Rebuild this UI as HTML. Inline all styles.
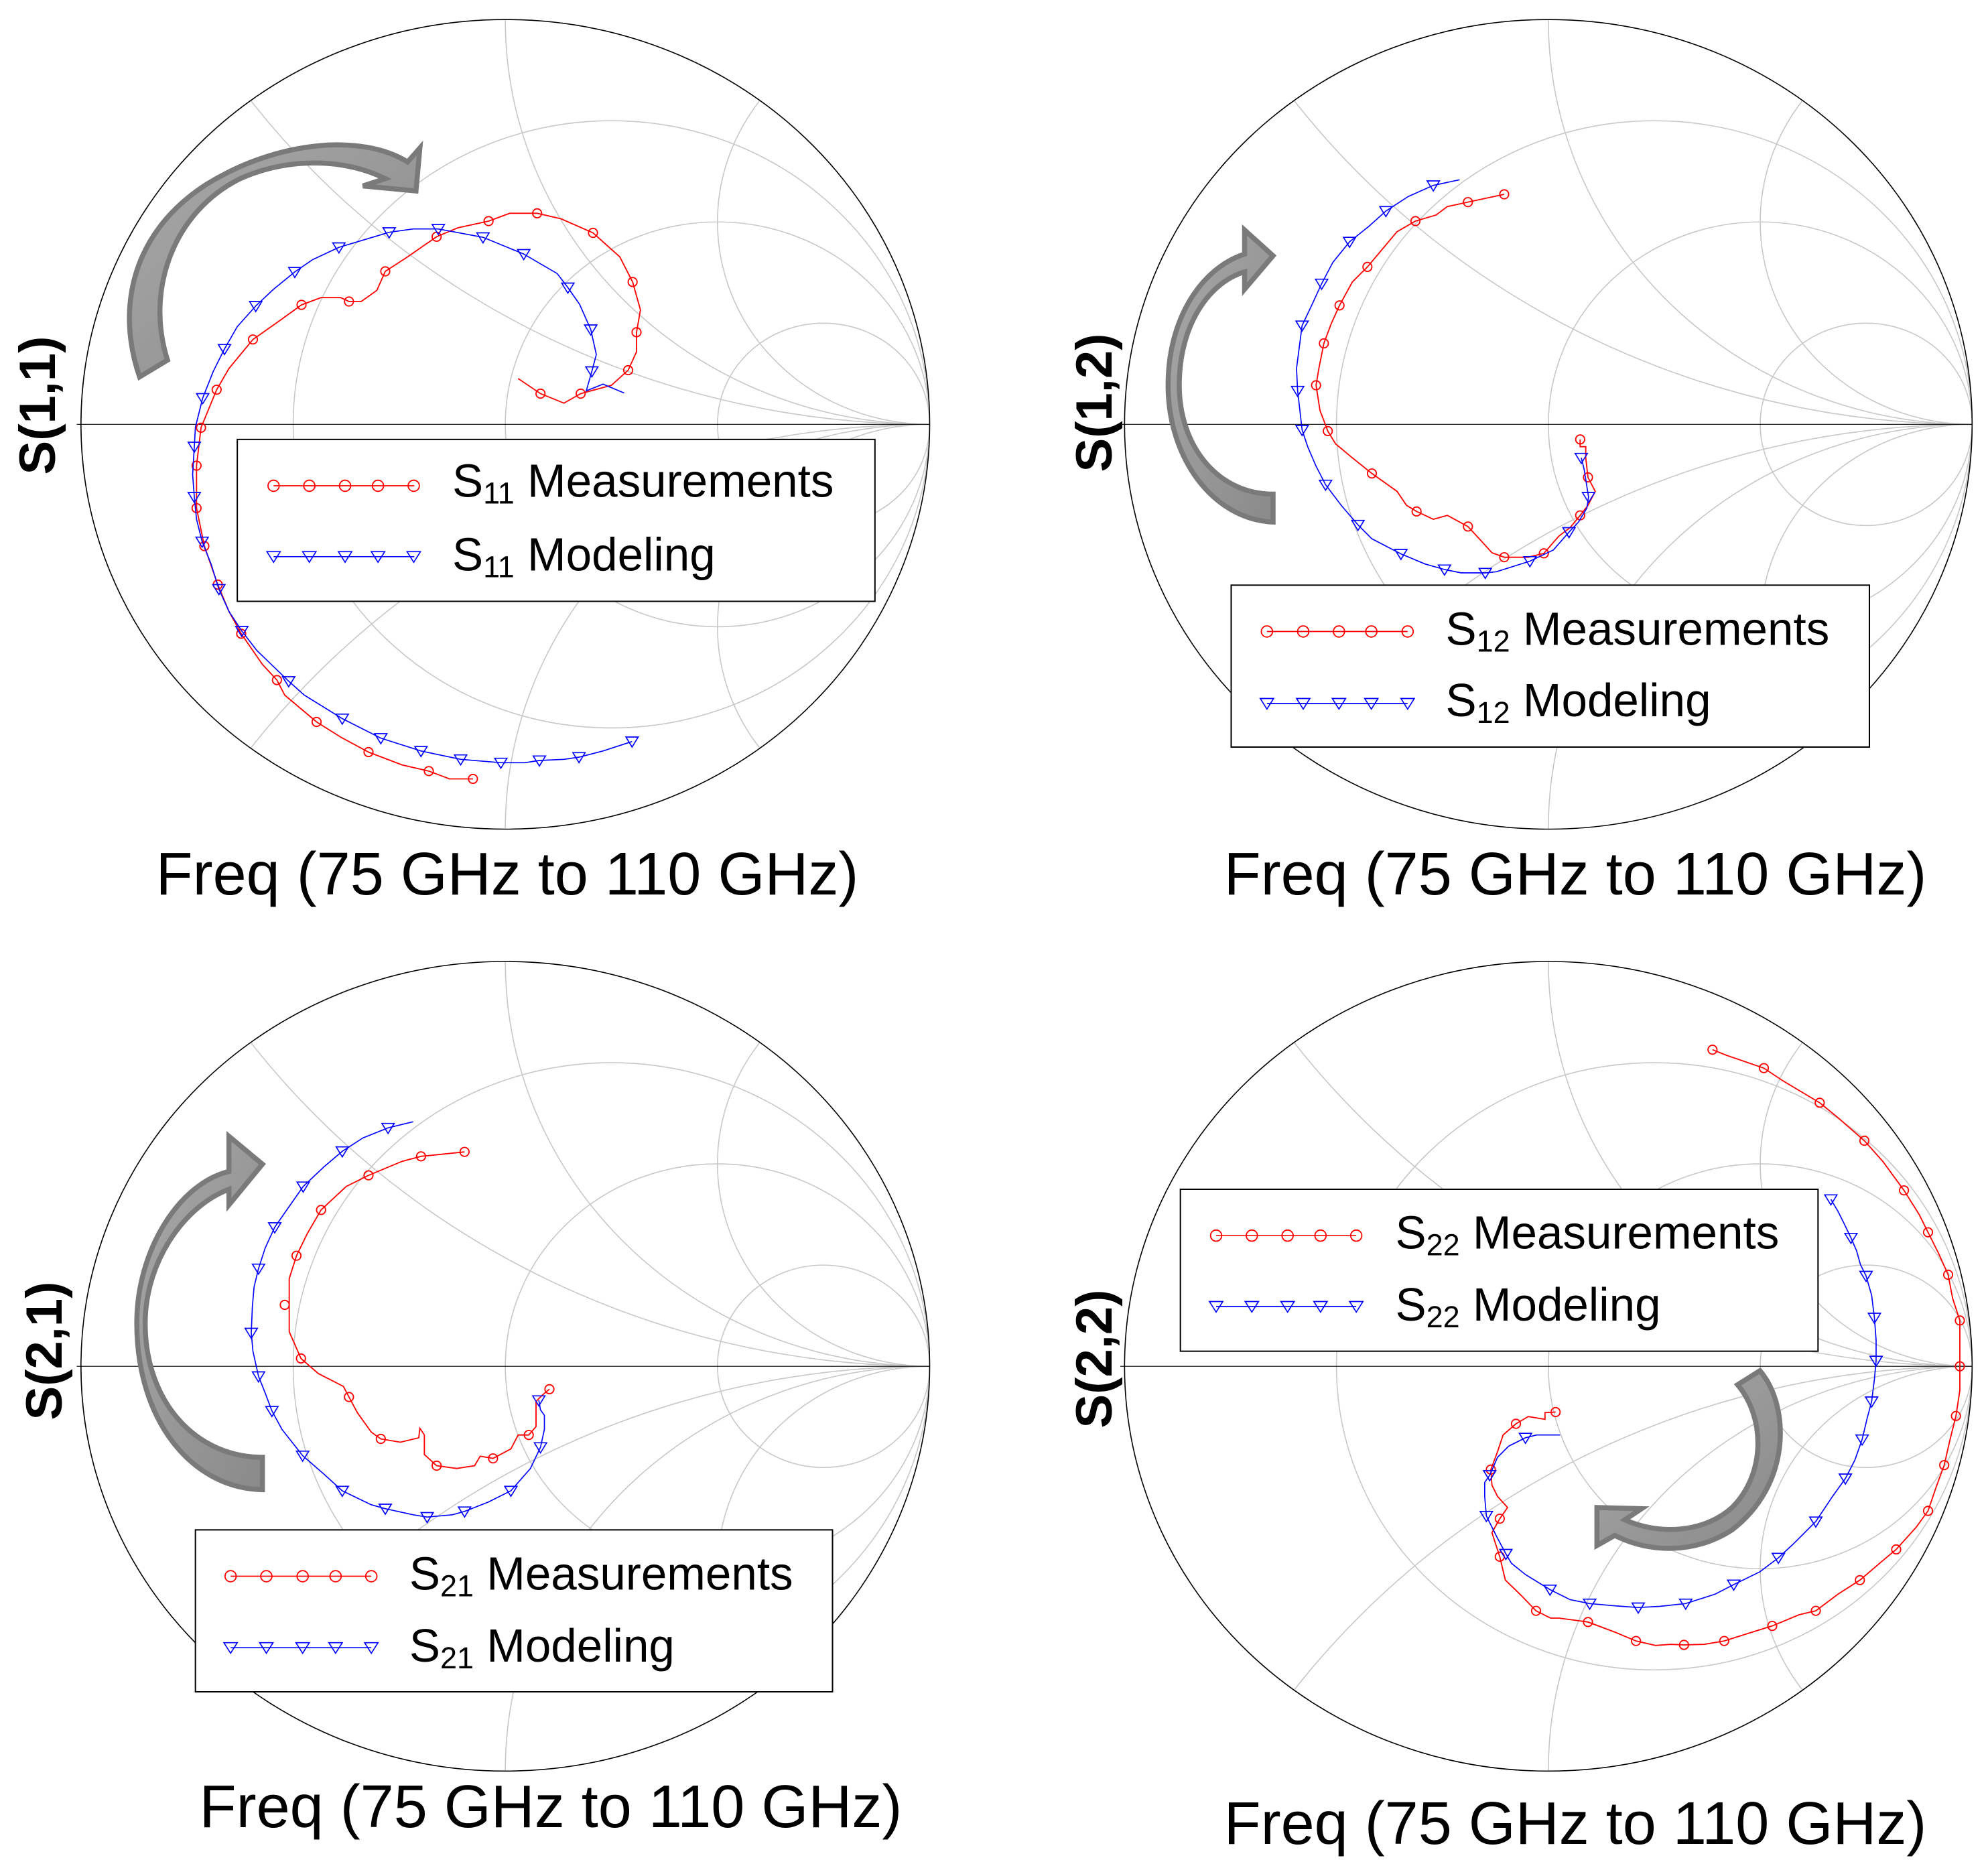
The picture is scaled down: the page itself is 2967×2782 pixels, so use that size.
<!DOCTYPE html>
<html><head><meta charset="utf-8"><style>html,body{margin:0;padding:0;background:#fff;overflow:hidden;width:2967px;height:2782px}svg{display:block}</style></head><body>
<svg xmlns="http://www.w3.org/2000/svg" xmlns:xlink="http://www.w3.org/1999/xlink" width="2967" height="2782" viewBox="0 0 2967 2782">
<defs>
<clipPath id="uc" clipPathUnits="userSpaceOnUse"><circle cx="0" cy="0" r="1"/></clipPath>
<g id="grid">
 <g clip-path="url(#uc)" fill="none" stroke="#c8c8c8" stroke-width="1.6">
  <circle cx="0.25" cy="0" r="0.75" vector-effect="non-scaling-stroke"/>
  <circle cx="0.5" cy="0" r="0.5" vector-effect="non-scaling-stroke"/>
  <circle cx="0.75" cy="0" r="0.25" vector-effect="non-scaling-stroke"/>
  <circle cx="1" cy="2" r="2" vector-effect="non-scaling-stroke"/>
  <circle cx="1" cy="-2" r="2" vector-effect="non-scaling-stroke"/>
  <circle cx="1" cy="1" r="1" vector-effect="non-scaling-stroke"/>
  <circle cx="1" cy="-1" r="1" vector-effect="non-scaling-stroke"/>
  <circle cx="1" cy="0.5" r="0.5" vector-effect="non-scaling-stroke"/>
  <circle cx="1" cy="-0.5" r="0.5" vector-effect="non-scaling-stroke"/>
 </g>
 <line x1="-1.01" y1="0" x2="1" y2="0" stroke="#000" stroke-width="1.2" vector-effect="non-scaling-stroke"/>
 <circle cx="0" cy="0" r="1" fill="none" stroke="#000" stroke-width="1.6" vector-effect="non-scaling-stroke"/>
</g>
<circle id="c" r="8" fill="none" stroke="#f00" stroke-width="2.2"/>
<path id="t" d="M-11,-8 L11,-8 L0,10 Z" fill="none" stroke="#00f" stroke-width="2"/>
<circle id="lc" r="10" fill="none" stroke="#f00" stroke-width="2.2"/>
<path id="lt" d="M-12,-9 L12,-9 L0,10 Z" fill="none" stroke="#00f" stroke-width="2"/>
<linearGradient id="ag" x1="0" y1="0" x2="1" y2="1"><stop offset="0" stop-color="#a8a8a8"/><stop offset="1" stop-color="#8a8a8a"/></linearGradient>
</defs>

<!-- ============ TL S11 ============ -->
<g transform="translate(100,0) scale(0.83333)">
 <g transform="translate(785,760) scale(760,-725)"><use xlink:href="#grid"/></g>
 <path d="M130,675 C90,560 110,420 250,330 C380,250 530,240 610,290 L632,265 L625,342 L530,333 L570,320 C500,285 400,280 310,320 C190,380 140,520 180,645 Z" fill="url(#ag)" stroke="#7a7a7a" stroke-width="9"/>
 <polyline fill="none" stroke="#f00" stroke-width="2.2" points="808,678 848,705 890,722 920,705 975,690 1005,663 1020,630 1020,595 1027,555 1013,505 990,460 942,417 885,392 842,382 793,382 755,396 700,408 662,424 610,460 570,486 555,520 527,540 505,540 490,533 455,533 420,546 380,575 333,608 290,660 268,698 240,766 232,834 232,910 246,978 270,1047 290,1095 312,1135 350,1190 376,1218 390,1245 447,1293 490,1320 540,1347 600,1370 648,1381 685,1395 727,1395"/>
 <g>
 <use xlink:href="#c" x="848" y="705"/><use xlink:href="#c" x="920" y="705"/><use xlink:href="#c" x="1005" y="663"/><use xlink:href="#c" x="1020" y="595"/><use xlink:href="#c" x="1013" y="505"/><use xlink:href="#c" x="942" y="417"/><use xlink:href="#c" x="842" y="382"/><use xlink:href="#c" x="755" y="396"/><use xlink:href="#c" x="662" y="424"/><use xlink:href="#c" x="570" y="486"/><use xlink:href="#c" x="505" y="540"/><use xlink:href="#c" x="420" y="546"/><use xlink:href="#c" x="333" y="608"/><use xlink:href="#c" x="268" y="698"/><use xlink:href="#c" x="240" y="766"/><use xlink:href="#c" x="232" y="834"/><use xlink:href="#c" x="232" y="910"/><use xlink:href="#c" x="246" y="978"/><use xlink:href="#c" x="270" y="1047"/><use xlink:href="#c" x="312" y="1135"/><use xlink:href="#c" x="376" y="1218"/><use xlink:href="#c" x="447" y="1293"/><use xlink:href="#c" x="540" y="1347"/><use xlink:href="#c" x="648" y="1381"/><use xlink:href="#c" x="727" y="1395"/>
 </g>
 <polyline fill="none" stroke="#00f" stroke-width="2" points="998,704 960,688 930,700 940,665 948,635 938,590 918,545 897,515 878,490 818,455 745,425 665,410 620,410 577,416 487,443 440,465 408,487 370,518 338,548 305,585 282,625 262,665 243,713 230,765 228,800 225,850 228,890 232,930 242,970 258,1010 272,1055 290,1095 313,1130 340,1165 397,1220 425,1245 493,1287 562,1322 634,1345 705,1360 777,1366 820,1366 846,1362 890,1360 917,1356 960,1345 1012,1328"/>
 <g>
 <use xlink:href="#t" x="940" y="665"/><use xlink:href="#t" x="938" y="590"/><use xlink:href="#t" x="897" y="515"/><use xlink:href="#t" x="818" y="455"/><use xlink:href="#t" x="745" y="425"/><use xlink:href="#t" x="665" y="410"/><use xlink:href="#t" x="577" y="416"/><use xlink:href="#t" x="487" y="443"/><use xlink:href="#t" x="408" y="487"/><use xlink:href="#t" x="338" y="548"/><use xlink:href="#t" x="282" y="625"/><use xlink:href="#t" x="243" y="713"/><use xlink:href="#t" x="228" y="800"/><use xlink:href="#t" x="228" y="890"/><use xlink:href="#t" x="242" y="970"/><use xlink:href="#t" x="272" y="1055"/><use xlink:href="#t" x="313" y="1130"/><use xlink:href="#t" x="397" y="1220"/><use xlink:href="#t" x="493" y="1287"/><use xlink:href="#t" x="562" y="1322"/><use xlink:href="#t" x="634" y="1345"/><use xlink:href="#t" x="705" y="1360"/><use xlink:href="#t" x="777" y="1366"/><use xlink:href="#t" x="846" y="1362"/><use xlink:href="#t" x="917" y="1356"/><use xlink:href="#t" x="1012" y="1328"/>
 </g>
 <rect x="305" y="787" width="1142" height="290" fill="#fff" stroke="#000" stroke-width="2.4"/>
 <line x1="370" y1="870" x2="622" y2="870" stroke="#f00" stroke-width="2"/>
 <use xlink:href="#lc" x="370" y="870"/><use xlink:href="#lc" x="434" y="870"/><use xlink:href="#lc" x="498" y="870"/><use xlink:href="#lc" x="557" y="870"/><use xlink:href="#lc" x="621" y="870"/>
 <line x1="370" y1="997" x2="622" y2="997" stroke="#00f" stroke-width="2"/>
 <use xlink:href="#lt" x="370" y="997"/><use xlink:href="#lt" x="434" y="997"/><use xlink:href="#lt" x="498" y="997"/><use xlink:href="#lt" x="557" y="997"/><use xlink:href="#lt" x="621" y="997"/>
 <text x="690" y="890" font-family="Liberation Sans, sans-serif" font-size="83">S<tspan font-size="54" dy="12">11</tspan><tspan dy="-12"> Measurements</tspan></text>
 <text x="690" y="1022" font-family="Liberation Sans, sans-serif" font-size="83">S<tspan font-size="54" dy="12">11</tspan><tspan dy="-12"> Modeling</tspan></text>
</g>

<!-- ============ TR S12 ============ -->
<g transform="translate(1660,0) scale(0.83333)">
 <g transform="translate(781,760) scale(759,-725)"><use xlink:href="#grid"/></g>
 <path d="M288,935 C180,930 100,820 100,690 C100,570 160,480 237,455 L237,412 L288,458 L237,518 L237,487 C175,505 120,580 120,690 C120,800 190,885 288,885 Z" fill="url(#ag)" stroke="#7a7a7a" stroke-width="9"/>
 <polyline fill="none" stroke="#f00" stroke-width="2.2" points="702,348 637,362 600,370 580,385 543,396 510,415 457,478 430,505 407,547 392,580 379,615 370,660 365,690 372,735 386,772 400,795 430,820 465,848 510,880 527,905 545,916 575,930 600,923 637,943 662,970 680,990 702,998 745,998 773,991 800,960 820,945 838,923 852,905 865,880 852,855 848,820 848,800 838,800 838,787"/>
 <g>
 <use xlink:href="#c" x="702" y="348"/><use xlink:href="#c" x="637" y="362"/><use xlink:href="#c" x="543" y="396"/><use xlink:href="#c" x="457" y="478"/><use xlink:href="#c" x="407" y="547"/><use xlink:href="#c" x="379" y="615"/><use xlink:href="#c" x="365" y="690"/><use xlink:href="#c" x="386" y="772"/><use xlink:href="#c" x="465" y="848"/><use xlink:href="#c" x="545" y="916"/><use xlink:href="#c" x="637" y="943"/><use xlink:href="#c" x="702" y="998"/><use xlink:href="#c" x="773" y="991"/><use xlink:href="#c" x="838" y="923"/><use xlink:href="#c" x="852" y="855"/><use xlink:href="#c" x="838" y="787"/>
 </g>
 <polyline fill="none" stroke="#00f" stroke-width="2" points="622,322 575,332 530,352 490,378 460,405 425,433 395,470 375,508 358,545 340,583 330,660 332,700 340,770 350,800 365,835 382,868 410,905 440,940 465,965 517,992 560,1010 595,1020 625,1026 668,1026 688,1024 748,1005 790,985 818,953 835,935 850,910 853,890 845,840 840,820"/>
 <g>
 <use xlink:href="#t" x="575" y="332"/><use xlink:href="#t" x="490" y="378"/><use xlink:href="#t" x="425" y="433"/><use xlink:href="#t" x="375" y="508"/><use xlink:href="#t" x="340" y="583"/><use xlink:href="#t" x="332" y="700"/><use xlink:href="#t" x="340" y="770"/><use xlink:href="#t" x="382" y="868"/><use xlink:href="#t" x="440" y="940"/><use xlink:href="#t" x="517" y="992"/><use xlink:href="#t" x="595" y="1020"/><use xlink:href="#t" x="668" y="1026"/><use xlink:href="#t" x="748" y="1005"/><use xlink:href="#t" x="818" y="953"/><use xlink:href="#t" x="853" y="890"/><use xlink:href="#t" x="840" y="820"/>
 </g>
 <rect x="213" y="1048" width="1143" height="290" fill="#fff" stroke="#000" stroke-width="2.4"/>
 <line x1="277" y1="1131" x2="529" y2="1131" stroke="#f00" stroke-width="2"/>
 <use xlink:href="#lc" x="277" y="1131"/><use xlink:href="#lc" x="342" y="1131"/><use xlink:href="#lc" x="406" y="1131"/><use xlink:href="#lc" x="464" y="1131"/><use xlink:href="#lc" x="529" y="1131"/>
 <line x1="277" y1="1260" x2="529" y2="1260" stroke="#00f" stroke-width="2"/>
 <use xlink:href="#lt" x="277" y="1260"/><use xlink:href="#lt" x="342" y="1260"/><use xlink:href="#lt" x="406" y="1260"/><use xlink:href="#lt" x="464" y="1260"/><use xlink:href="#lt" x="529" y="1260"/>
 <text x="597" y="1155" font-family="Liberation Sans, sans-serif" font-size="83">S<tspan font-size="54" dy="12">12</tspan><tspan dy="-12"> Measurements</tspan></text>
 <text x="597" y="1283" font-family="Liberation Sans, sans-serif" font-size="83">S<tspan font-size="54" dy="12">12</tspan><tspan dy="-12"> Modeling</tspan></text>
</g>

<!-- ============ BL S21 ============ -->
<g transform="translate(100,1400) scale(0.83333)">
 <g transform="translate(785,767) scale(760,-725)"><use xlink:href="#grid"/></g>
 <path d="M350,988 C220,985 125,860 125,690 C125,560 200,440 290,418 L290,355 L350,405 L290,478 L290,450 C210,480 140,580 140,690 C140,830 230,930 350,930 Z" fill="url(#ag)" stroke="#7a7a7a" stroke-width="9"/>
 <polyline fill="none" stroke="#f00" stroke-width="2.2" points="712,383 634,391 600,400 540,425 500,445 455,487 430,530 411,569 398,610 398,705 419,753 450,780 495,803 505,822 520,850 545,885 562,897 597,903 630,895 632,878 640,890 640,925 662,945 698,950 730,945 740,928 763,932 795,915 808,890 827,890 840,875 840,830 852,818 864,808"/>
 <g>
 <use xlink:href="#c" x="712" y="383"/><use xlink:href="#c" x="634" y="391"/><use xlink:href="#c" x="540" y="425"/><use xlink:href="#c" x="455" y="487"/><use xlink:href="#c" x="411" y="569"/><use xlink:href="#c" x="390" y="657"/><use xlink:href="#c" x="419" y="753"/><use xlink:href="#c" x="505" y="822"/><use xlink:href="#c" x="562" y="897"/><use xlink:href="#c" x="662" y="945"/><use xlink:href="#c" x="763" y="932"/><use xlink:href="#c" x="827" y="890"/><use xlink:href="#c" x="864" y="808"/>
 </g>
 <polyline fill="none" stroke="#00f" stroke-width="2" points="620,329 575,340 530,358 493,382 460,410 423,445 395,485 372,518 355,555 343,592 335,625 332,660 330,707 333,740 343,785 355,815 367,847 385,880 422,927 460,960 493,990 545,1015 570,1022 620,1033 645,1037 690,1033 712,1027 755,1010 795,990 830,950 848,912 855,880 855,855 848,845 845,828"/>
 <g>
 <use xlink:href="#t" x="575" y="340"/><use xlink:href="#t" x="493" y="382"/><use xlink:href="#t" x="423" y="445"/><use xlink:href="#t" x="372" y="518"/><use xlink:href="#t" x="343" y="592"/><use xlink:href="#t" x="330" y="707"/><use xlink:href="#t" x="343" y="785"/><use xlink:href="#t" x="367" y="847"/><use xlink:href="#t" x="422" y="927"/><use xlink:href="#t" x="493" y="990"/><use xlink:href="#t" x="570" y="1022"/><use xlink:href="#t" x="645" y="1037"/><use xlink:href="#t" x="712" y="1027"/><use xlink:href="#t" x="795" y="990"/><use xlink:href="#t" x="848" y="912"/><use xlink:href="#t" x="845" y="828"/>
 </g>
 <rect x="230" y="1060" width="1141" height="290" fill="#fff" stroke="#000" stroke-width="2.4"/>
 <line x1="293" y1="1143" x2="545" y2="1143" stroke="#f00" stroke-width="2"/>
 <use xlink:href="#lc" x="293" y="1143"/><use xlink:href="#lc" x="357" y="1143"/><use xlink:href="#lc" x="422" y="1143"/><use xlink:href="#lc" x="481" y="1143"/><use xlink:href="#lc" x="545" y="1143"/>
 <line x1="293" y1="1271" x2="545" y2="1271" stroke="#00f" stroke-width="2"/>
 <use xlink:href="#lt" x="293" y="1271"/><use xlink:href="#lt" x="357" y="1271"/><use xlink:href="#lt" x="422" y="1271"/><use xlink:href="#lt" x="481" y="1271"/><use xlink:href="#lt" x="545" y="1271"/>
 <text x="613" y="1167" font-family="Liberation Sans, sans-serif" font-size="83">S<tspan font-size="54" dy="12">21</tspan><tspan dy="-12"> Measurements</tspan></text>
 <text x="613" y="1296" font-family="Liberation Sans, sans-serif" font-size="83">S<tspan font-size="54" dy="12">21</tspan><tspan dy="-12"> Modeling</tspan></text>
</g>

<!-- ============ BR S22 ============ -->
<g transform="translate(1660,1400) scale(0.83333)">
 <g transform="translate(781,767) scale(759,-725)"><use xlink:href="#grid"/></g>
 <polyline fill="none" stroke="#f00" stroke-width="2.2" points="1075,200 1100,210 1167,233 1200,255 1267,295 1300,322 1347,363 1380,400 1418,452 1445,495 1461,527 1480,565 1497,603 1505,645 1518,685 1518,767 1518,810 1511,856 1500,900 1490,944 1475,985 1461,1026 1440,1055 1404,1095 1380,1115 1339,1150 1300,1175 1260,1205 1230,1212 1182,1232 1140,1245 1096,1259 1060,1265 1024,1266 1000,1265 973,1267 938,1259 900,1243 852,1225 800,1218 785,1218 759,1205 730,1175 704,1150 694,1108 680,1065 694,1040 708,1020 690,1000 680,980 678,952 690,920 700,890 723,870 745,857 775,862 775,850 794,849"/>
 <g>
 <use xlink:href="#c" x="1075" y="200"/><use xlink:href="#c" x="1167" y="233"/><use xlink:href="#c" x="1267" y="295"/><use xlink:href="#c" x="1347" y="363"/><use xlink:href="#c" x="1418" y="452"/><use xlink:href="#c" x="1461" y="527"/><use xlink:href="#c" x="1497" y="603"/><use xlink:href="#c" x="1518" y="685"/><use xlink:href="#c" x="1518" y="767"/><use xlink:href="#c" x="1511" y="856"/><use xlink:href="#c" x="1490" y="944"/><use xlink:href="#c" x="1461" y="1026"/><use xlink:href="#c" x="1404" y="1095"/><use xlink:href="#c" x="1339" y="1150"/><use xlink:href="#c" x="1260" y="1205"/><use xlink:href="#c" x="1182" y="1232"/><use xlink:href="#c" x="1096" y="1259"/><use xlink:href="#c" x="1024" y="1266"/><use xlink:href="#c" x="938" y="1259"/><use xlink:href="#c" x="852" y="1225"/><use xlink:href="#c" x="759" y="1205"/><use xlink:href="#c" x="694" y="1108"/><use xlink:href="#c" x="694" y="1040"/><use xlink:href="#c" x="678" y="952"/><use xlink:href="#c" x="723" y="870"/><use xlink:href="#c" x="794" y="849"/>
 </g>
 <polyline fill="none" stroke="#00f" stroke-width="2" points="1287,468 1300,490 1310,510 1323,537 1333,560 1340,585 1350,605 1360,640 1365,680 1368,720 1368,757 1365,790 1360,830 1352,860 1343,898 1330,935 1313,968 1290,1000 1260,1045 1240,1065 1220,1085 1193,1110 1160,1135 1113,1158 1080,1175 1027,1192 980,1197 942,1199 900,1196 855,1192 820,1185 784,1167 740,1140 715,1120 705,1103 690,1075 670,1035 667,1000 667,975 676,962 690,930 710,910 740,895 760,890 802,890"/>
 <g>
 <use xlink:href="#t" x="1287" y="468"/><use xlink:href="#t" x="1323" y="537"/><use xlink:href="#t" x="1350" y="605"/><use xlink:href="#t" x="1365" y="680"/><use xlink:href="#t" x="1368" y="757"/><use xlink:href="#t" x="1360" y="830"/><use xlink:href="#t" x="1343" y="898"/><use xlink:href="#t" x="1313" y="968"/><use xlink:href="#t" x="1260" y="1045"/><use xlink:href="#t" x="1193" y="1110"/><use xlink:href="#t" x="1113" y="1158"/><use xlink:href="#t" x="1027" y="1192"/><use xlink:href="#t" x="942" y="1199"/><use xlink:href="#t" x="855" y="1192"/><use xlink:href="#t" x="784" y="1167"/><use xlink:href="#t" x="705" y="1103"/><use xlink:href="#t" x="670" y="1035"/><use xlink:href="#t" x="676" y="962"/><use xlink:href="#t" x="740" y="895"/>
 </g>
 <path d="M1120,800 L1160,775 C1215,840 1215,980 1110,1060 C1040,1105 960,1100 900,1070 L868,1088 L868,1020 L948,1022 L918,1042 C980,1070 1060,1065 1110,1020 C1170,960 1170,860 1120,800 Z" fill="url(#ag)" stroke="#7a7a7a" stroke-width="9"/>
 <rect x="122" y="450" width="1142" height="290" fill="#fff" stroke="#000" stroke-width="2.4"/>
 <line x1="186" y1="533" x2="437" y2="533" stroke="#f00" stroke-width="2"/>
 <use xlink:href="#lc" x="186" y="533"/><use xlink:href="#lc" x="250" y="533"/><use xlink:href="#lc" x="314" y="533"/><use xlink:href="#lc" x="373" y="533"/><use xlink:href="#lc" x="437" y="533"/>
 <line x1="186" y1="660" x2="437" y2="660" stroke="#00f" stroke-width="2"/>
 <use xlink:href="#lt" x="186" y="660"/><use xlink:href="#lt" x="250" y="660"/><use xlink:href="#lt" x="314" y="660"/><use xlink:href="#lt" x="373" y="660"/><use xlink:href="#lt" x="437" y="660"/>
 <text x="507" y="556" font-family="Liberation Sans, sans-serif" font-size="83">S<tspan font-size="54" dy="12">22</tspan><tspan dy="-12"> Measurements</tspan></text>
 <text x="507" y="685" font-family="Liberation Sans, sans-serif" font-size="83">S<tspan font-size="54" dy="12">22</tspan><tspan dy="-12"> Modeling</tspan></text>
</g>

<!-- Axis labels -->
<g font-family="Liberation Sans, sans-serif" font-size="90" text-anchor="middle" fill="#000">
 <text x="757" y="1335">Freq (75 GHz to 110 GHz)</text>
 <text x="2351" y="1335">Freq (75 GHz to 110 GHz)</text>
 <text x="822" y="2727">Freq (75 GHz to 110 GHz)</text>
 <text x="2351" y="2752">Freq (75 GHz to 110 GHz)</text>
</g>
<g font-family="Liberation Sans, sans-serif" font-size="76" font-weight="bold" text-anchor="middle" fill="#000">
 <text transform="translate(82,605) rotate(-90)">S(1,1)</text>
 <text transform="translate(1659,601) rotate(-90)">S(1,2)</text>
 <text transform="translate(92,2016) rotate(-90)">S(2,1)</text>
 <text transform="translate(1659,2028) rotate(-90)">S(2,2)</text>
</g>
</svg>
</body></html>
